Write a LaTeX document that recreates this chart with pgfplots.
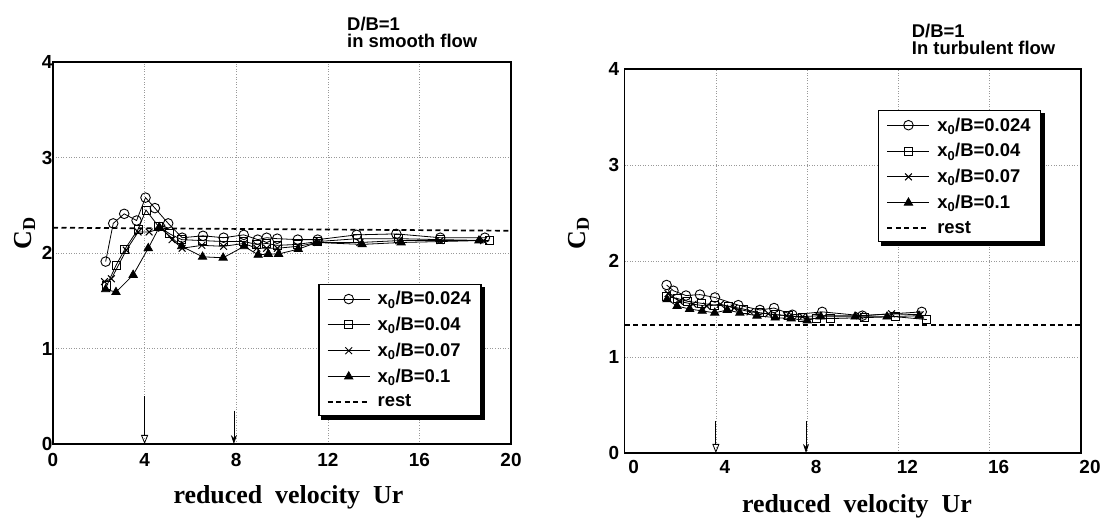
\documentclass[border=0pt]{standalone}
\usepackage{fontspec}
\setmainfont{Liberation Sans}
\newfontfamily\serifb{Liberation Serif}
\usepackage{pgfplots}
\pgfplotsset{compat=1.18}
\usetikzlibrary{arrows.meta}

\pgfplotsset{
  cdstyle/.style={
    scale only axis,
    xmin=0,xmax=20,ymin=0,ymax=4,
    xtick={0,4,8,12,16,20}, ytick={0,1,2,3,4},
    major tick length=0pt,
    axis line style={line width=1.6bp},
    grid=major,
    major grid style={gray!80, line width=0.6bp, dash pattern=on 0.8bp off 1.8bp},
    /pgf/number format/assume math mode=true,
    ticklabel style={font=\fontsize{19}{19}\selectfont\bfseries},
    ylabel={\serifb\bfseries\fontsize{26}{26}\selectfont C\textsubscript{D}},
    xlabel={\serifb\bfseries\fontsize{26}{26}\selectfont reduced\ \ velocity\ \ Ur},
    legend cell align=left,
    legend style={font=\fontsize{18.5}{20}\selectfont\bfseries, draw=black, line width=1.4bp,
      fill=white, inner xsep=8bp, inner ysep=5bp, row sep=7bp, column sep=5bp,
      nodes={inner xsep=2bp}},
    legend image code/.code={
      \draw[#1, mark=none, solid, line width=0.8bp] (0bp,0bp) -- (42bp,0bp);
      \draw[#1, only marks] plot coordinates {(21bp,0bp)};},
    every axis plot/.append style={black, line width=0.8bp},
    sc/.style={mark=o, mark size=4.8bp, mark options={fill=white, solid, line width=0.9bp}},
    ss/.style={mark=square, mark size=4bp, mark options={fill=white, solid, line width=0.9bp}},
    sx/.style={mark=x, mark size=4.8bp, mark options={solid, line width=1bp}},
    st/.style={mark=triangle*, mark size=4.8bp, mark options={solid}},
    srest/.style={dashed, line width=1.7bp, dash pattern=on 5bp off 3.5bp,
      legend image code/.code={\draw[line width=1.7bp, dash pattern=on 5bp off 3.5bp] (0bp,0bp) -- (42bp,0bp);}},
  },
}

\begin{document}
\begin{tikzpicture}
\path[use as bounding box] (0,0) rectangle (1105bp,519bp);

% ---------------- left: smooth flow ----------------
\begin{axis}[cdstyle,
  at={(53bp,75bp)}, anchor=south west, width=458bp, height=382bp,
  xticklabel style={yshift=-6bp},
  yticklabel style={xshift=3bp},
  xlabel style={at={(axis description cs:0.514,-0.139)}, anchor=center},
  ylabel style={at={(axis description cs:-0.062,0.552)}, anchor=center},
  legend style={at={(0.579,0.419)}, anchor=north west, name=legL},
]
\addplot[sc] coordinates {
(2.30,1.91)(2.63,2.31)(3.11,2.41)(3.65,2.34)(4.04,2.58)(4.45,2.47)(5.03,2.31)
(5.64,2.16)(6.55,2.18)(7.45,2.16)(8.33,2.19)(8.94,2.14)(9.33,2.16)(9.79,2.15)
(10.69,2.14)(11.56,2.14)(13.26,2.19)(14.99,2.20)(16.91,2.16)(18.86,2.16)};
\addlegendentry{x\textsubscript{0}/B=0.024}
\addplot[ss] coordinates {
(2.35,1.66)(2.75,1.87)(3.14,2.04)(3.72,2.25)(4.06,2.45)(4.60,2.28)(5.10,2.20)
(5.62,2.14)(6.53,2.13)(7.43,2.12)(8.33,2.12)(8.89,2.09)(9.33,2.10)(9.80,2.08)
(10.67,2.09)(11.56,2.12)(13.30,2.15)(15.10,2.15)(16.90,2.14)(19.05,2.13)};
\addlegendentry{x\textsubscript{0}/B=0.04}
\addplot[sx] coordinates {
(2.25,1.70)(2.55,1.73)(3.20,2.03)(3.72,2.22)(4.20,2.22)(4.75,2.26)(5.20,2.14)
(5.64,2.05)(6.50,2.08)(7.45,2.07)(8.33,2.10)(8.90,2.05)(9.33,2.05)(9.80,2.05)
(10.70,2.07)(11.56,2.11)(13.40,2.11)(15.10,2.13)(16.90,2.13)(18.80,2.13)};
\addlegendentry{x\textsubscript{0}/B=0.07}
\addplot[st] coordinates {
(2.30,1.62)(2.75,1.59)(3.50,1.77)(4.16,2.05)(4.64,2.27)(5.62,2.07)(6.53,1.96)
(7.43,1.95)(8.35,2.07)(8.96,1.98)(9.40,1.99)(9.85,1.99)(10.71,2.04)(11.51,2.11)
(13.50,2.09)(15.20,2.11)(18.60,2.13)};
\addlegendentry{x\textsubscript{0}/B=0.1}
\addplot[srest] coordinates {(0,2.265)(20,2.233)};
\addlegendentry{rest}
\draw[line width=0.8bp, -{Triangle[open, length=9bp, width=7bp]}] (axis cs:4,0.50) -- (axis cs:4,0.0);
\draw[line width=0.8bp, -{Stealth[length=9bp, width=6bp]}] (axis cs:7.9,0.35) -- (axis cs:7.9,0.0);
\end{axis}
% legend shadow (right and bottom strips)
\fill[black] ([xshift=3bp]legL.south west) rectangle ([xshift=3.5bp,yshift=-3.5bp]legL.south east);
\fill[black] ([yshift=-3bp]legL.north east) rectangle ([xshift=3.5bp]legL.south east);

\node[anchor=base west, font=\fontsize{18.5}{19}\selectfont\bfseries, inner sep=0pt] at (347bp,488bp) {D/B=1};
\node[anchor=base west, font=\fontsize{18.5}{19}\selectfont\bfseries, inner sep=0pt] at (347bp,471bp) {in smooth flow};

% ---------------- right: turbulent flow ----------------
\begin{axis}[cdstyle,
  at={(624.6bp,66bp)}, anchor=south west, width=456.4bp, height=384bp,
  xticklabel style={yshift=-4bp, xshift=9bp},
  yticklabel style={xshift=-2bp},
  xlabel style={at={(axis description cs:0.509,-0.138)}, anchor=center},
  ylabel style={at={(axis description cs:-0.101,0.573)}, anchor=center},
  legend style={at={(0.555,0.893)}, anchor=north west, name=legR},
]
\addplot[sc] coordinates {
(1.84,1.75)(2.14,1.69)(2.69,1.64)(3.30,1.65)(3.96,1.62)(4.98,1.54)(5.93,1.49)
(6.55,1.51)(7.35,1.44)(8.66,1.47)(10.42,1.43)(13.02,1.47)};
\addlegendentry{x\textsubscript{0}/B=0.024}
\addplot[ss] coordinates {
(1.84,1.63)(2.30,1.61)(2.75,1.58)(3.35,1.56)(3.95,1.54)(4.55,1.53)(5.20,1.50)
(5.90,1.46)(6.60,1.44)(7.20,1.43)(7.80,1.41)(8.40,1.40)(9.00,1.40)(10.50,1.41)
(11.85,1.42)(13.24,1.39)};
\addlegendentry{x\textsubscript{0}/B=0.04}
\addplot[sx] coordinates {
(1.90,1.66)(2.40,1.58)(3.00,1.55)(3.60,1.53)(4.20,1.55)(4.80,1.51)(5.50,1.47)
(6.30,1.45)(7.10,1.43)(7.80,1.42)(8.50,1.43)(10.30,1.43)(11.70,1.45)(12.95,1.44)};
\addlegendentry{x\textsubscript{0}/B=0.07}
\addplot[st] coordinates {
(1.86,1.60)(2.30,1.53)(2.85,1.50)(3.40,1.48)(3.95,1.46)(4.50,1.49)(5.05,1.46)
(5.80,1.43)(6.60,1.41)(7.30,1.40)(8.00,1.38)(8.60,1.42)(10.10,1.42)(11.50,1.42)(12.90,1.43)};
\addlegendentry{x\textsubscript{0}/B=0.1}
\addplot[srest] coordinates {(0,1.33)(20,1.33)};
\addlegendentry{rest}
\draw[line width=0.8bp, -{Triangle[open, length=9bp, width=7bp]}] (axis cs:4.0,0.33) -- (axis cs:4.0,0.0);
\draw[line width=0.8bp, -{Stealth[length=9bp, width=6bp]}] (axis cs:7.95,0.33) -- (axis cs:7.95,0.0);
\end{axis}
\fill[black] ([xshift=3bp]legR.south west) rectangle ([xshift=3.5bp,yshift=-3.5bp]legR.south east);
\fill[black] ([yshift=-3bp]legR.north east) rectangle ([xshift=3.5bp]legR.south east);

\node[anchor=base west, font=\fontsize{18.5}{19}\selectfont\bfseries, inner sep=0pt] at (911.7bp,481bp) {D/B=1};
\node[anchor=base west, font=\fontsize{18.5}{19}\selectfont\bfseries, inner sep=0pt] at (911.7bp,464bp) {In turbulent flow};
\end{tikzpicture}
\end{document}
